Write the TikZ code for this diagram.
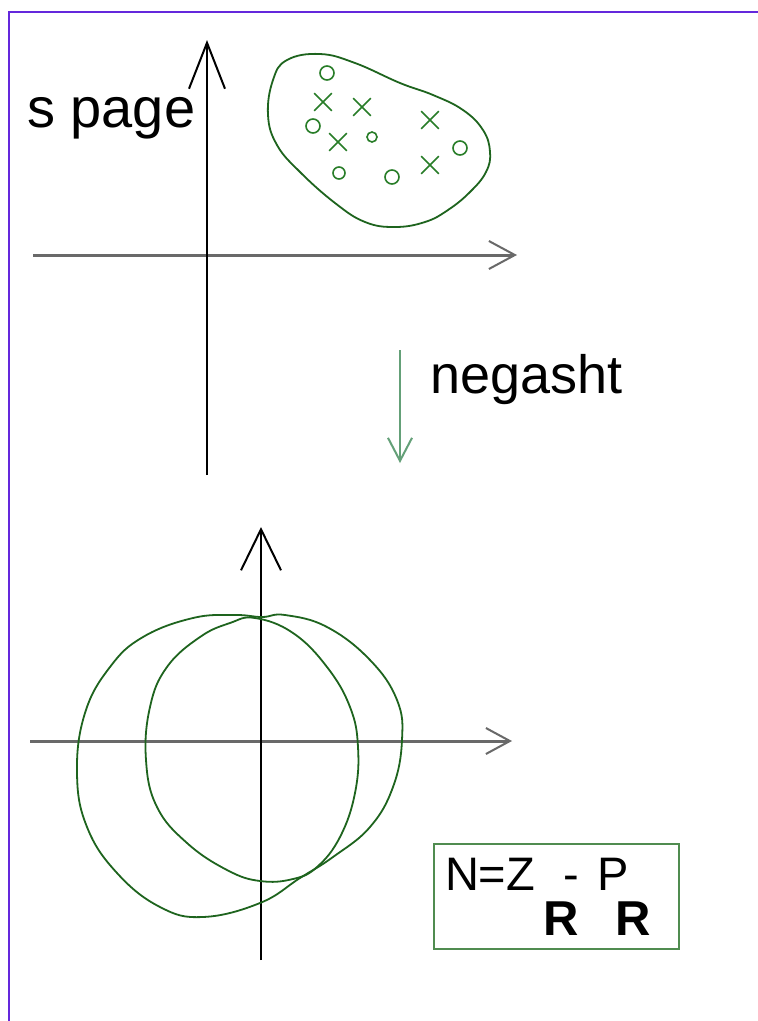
\documentclass[tikz,border=0pt]{standalone}
\usepackage{fontspec}
\setmainfont{Liberation Sans}
\usetikzlibrary{arrows.meta, positioning, shapes.misc}
\usepackage{xcolor}
\definecolor{frameviolet}{RGB}{100,40,220}
\definecolor{axisgray}{RGB}{105,105,105}
\definecolor{curvegreen}{RGB}{30,100,30}
\definecolor{markgreen}{RGB}{40,125,40}
\definecolor{mapgreen}{RGB}{100,160,120}
\definecolor{boxgreen}{RGB}{80,140,80}
\newcommand\Rbold{\fontsize{49pt}{52pt}\bfseries\selectfont}

\begin{document}
\begin{tikzpicture}[
  x=1pt, y=-1pt,
  vaxis/.style={line width=2pt, black},
  haxis/.style={line width=3pt, axisgray},
  curve/.style={line width=1.8pt, curvegreen},
  ring/.style={circle, draw=markgreen, line width=1.6pt, inner sep=0pt},
  cross/.style={cross out, draw=markgreen, line width=1.6pt, minimum size=16pt, inner sep=0pt},
  label/.style={anchor=base west, inner sep=0pt, font=\fontsize{56pt}{60pt}\selectfont},
]
  \useasboundingbox[fill=white] (0,0) rectangle (758,1021);
  % frame on top and left
  \draw[frameviolet, line width=2.5pt] (9,1021) -- (9,12) -- (758,12);

  % upper axes
  \coordinate (ua-s) at (207,475);
  \coordinate (ua-n) at (207,40);
  \coordinate (ua-w) at (33,255);
  \coordinate (ua-e) at (515,255);
  \draw[haxis, -{Straight Barb[length=26pt, width=28pt, line width=2pt]}, shorten >=-2pt] (ua-w) -- (ua-e);
  \draw[vaxis, -{Straight Barb[length=46pt, width=36pt]}] (ua-s) -- (ua-n);
  \node[label] (spage) at (27,127) {s page};

  % data cloud
  \draw[curve] plot[smooth cycle, tension=0.7] coordinates {
    (287,60) (320,54) (355,63) (400,83) (433,95) (463,110) (483,130)
    (490,152) (486,172) (470,192) (448,210) (425,222) (395,227)
    (365,222) (335,203) (300,172) (277,145) (268,115) (273,80)};
  \foreach \px/\py/\r [count=\i] in {327/73/7, 313/126/7, 372/137/5, 339/173/6, 460/148/7, 392/177/7}
    \node[ring, minimum size=2*\r pt] (o\i) at (\px,\py) {};
  \foreach \px/\py [count=\i] in {323/102, 362/107, 430/120, 338/142, 430/165}
    \node[cross] (x\i) at (\px,\py) {};

  % mapping arrow
  \coordinate (map-a) at (400,350);
  \coordinate (map-b) at (400,463);
  \draw[mapgreen, line width=2pt, -{Straight Barb[length=23pt, width=24pt]}] (map-a) -- (map-b);
  \node[label, font=\fontsize{54pt}{58pt}\selectfont] (negasht) at (430,393) {negasht};

  % lower axes
  \coordinate (la-s) at (261,960);
  \coordinate (la-n) at (261,527);
  \coordinate (la-w) at (30,741);
  \coordinate (la-e) at (510,741);
  \draw[haxis, -{Straight Barb[length=24pt, width=26pt, line width=2pt]}, shorten >=-2pt] (la-w) -- (la-e);
  \draw[vaxis, -{Straight Barb[length=41pt, width=40pt]}] (la-s) -- (la-n);

  % image curves
  \draw[curve] plot[smooth cycle, tension=0.7] coordinates {
    (262,617) (285,615) (327,627) (370,660) (397,700) (402,740) (393,787)
    (370,827) (333,857) (300,878) (260,903) (203,917) (160,907) (117,873)
    (87,827) (77,773) (85,713) (110,667) (143,637) (193,618) (235,615)};
  \draw[curve] plot[smooth cycle, tension=0.7] coordinates {
    (255,618) (293,633) (327,667) (350,707) (358,747) (355,793) (340,837)
    (317,867) (293,879) (260,881) (227,870) (187,843) (157,807) (146,760)
    (150,707) (167,667) (200,637) (230,623)};

  % formula box
  \node[draw=boxgreen, line width=2pt, anchor=north west, inner xsep=11pt,
        text width=223pt, minimum height=105pt, align=left,
        font=\fontsize{47pt}{50pt}\selectfont] (formula) at (433,843)
    {N=Z\rlap{\hspace{8pt}\raisebox{-45pt}{\Rbold R}}\hspace{28pt}-\hspace{19pt}P\rlap{\hspace{-14pt}\raisebox{-45pt}{\Rbold R}}};
\end{tikzpicture}
\end{document}
